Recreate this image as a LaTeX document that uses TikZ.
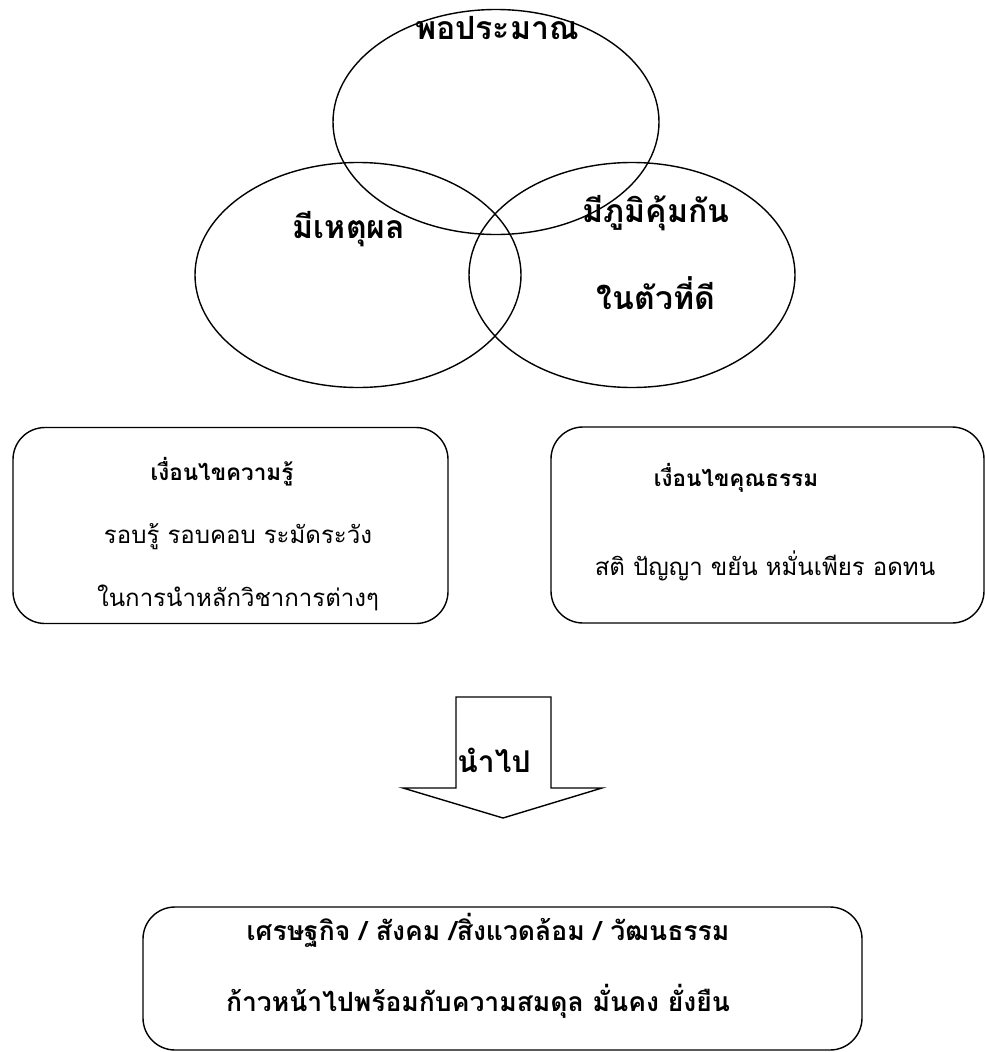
\documentclass[tikz,border=0pt]{standalone}
\usepackage{fontspec}
\newfontfamily\thaifont[Script=Thai]{Loma}
\usetikzlibrary{shapes.geometric}
\begin{document}
\begin{tikzpicture}[x=1pt,y=-1pt,
  ring/.style={draw,line width=1.4pt,ellipse,minimum width=326pt,minimum height=225pt,inner sep=0pt},
  rbox/.style={draw,line width=1.4pt,rounded corners=32pt,inner sep=0pt},
  biglbl/.style={font=\thaifont\fontsize{32}{36}\selectfont\bfseries,inner sep=0pt},
  lbl/.style={font=\thaifont\fontsize{22.5}{26}\selectfont\bfseries,inner sep=0pt},
  botlbl/.style={font=\thaifont\fontsize{26.5}{30}\selectfont\bfseries,inner sep=0pt},
  txt/.style={font=\thaifont\fontsize{24}{28}\selectfont,inner sep=0pt}]
\useasboundingbox (0,0) rectangle (985,1052);
\node[ring] (top) at (496,122) {};
\node[ring] (left) at (358,275) {};
\node[ring] (right) at (632,275) {};
\node[biglbl] (t1) at (497,28) {พอประมาณ};
\node[biglbl] (t2) at (349,229) {มีเหตุผล};
\node[biglbl] (t3) at (656,213) {มีภูมิคุ้มกัน};
\node[biglbl] (t4) at (656,293) {ในตัวที่ดี};
\node[rbox,minimum width=435pt,minimum height=196pt] (kb) at (230.5,525.5) {};
\node[rbox,minimum width=433pt,minimum height=196pt] (mb) at (767.5,525) {};
\node[lbl] (k1) at (222,472) {เงื่อนไขความรู้};
\node[txt] (k2) at (238,537) {รอบรู้ รอบคอบ ระมัดระวัง};
\node[txt] (k3) at (238,598) {ในการนำหลักวิชาการต่างๆ};
\node[lbl] (m1) at (736,478) {เงื่อนไขคุณธรรม};
\node[txt] (m2) at (765,566) {สติ ปัญญา ขยัน หมั่นเพียร อดทน};
\draw[line width=1.4pt] (456,697) coordinate (a1) -- (551,697) -- (551,788) -- (602,788)
  -- (503,818) -- (403,788) -- (456,788) -- cycle;
\node[biglbl,font=\thaifont\fontsize{30}{34}\selectfont\bfseries] (go) at (494,760) {นำไป};
\draw[rbox] (143,907) rectangle (862,1050);
\node[botlbl] (b1) at (488,930) {เศรษฐกิจ / สังคม /สิ่งแวดล้อม / วัฒนธรรม};
\node[botlbl] (b2) at (478,1001) {ก้าวหน้าไปพร้อมกับความสมดุล มั่นคง ยั่งยืน};
\end{tikzpicture}
\end{document}
